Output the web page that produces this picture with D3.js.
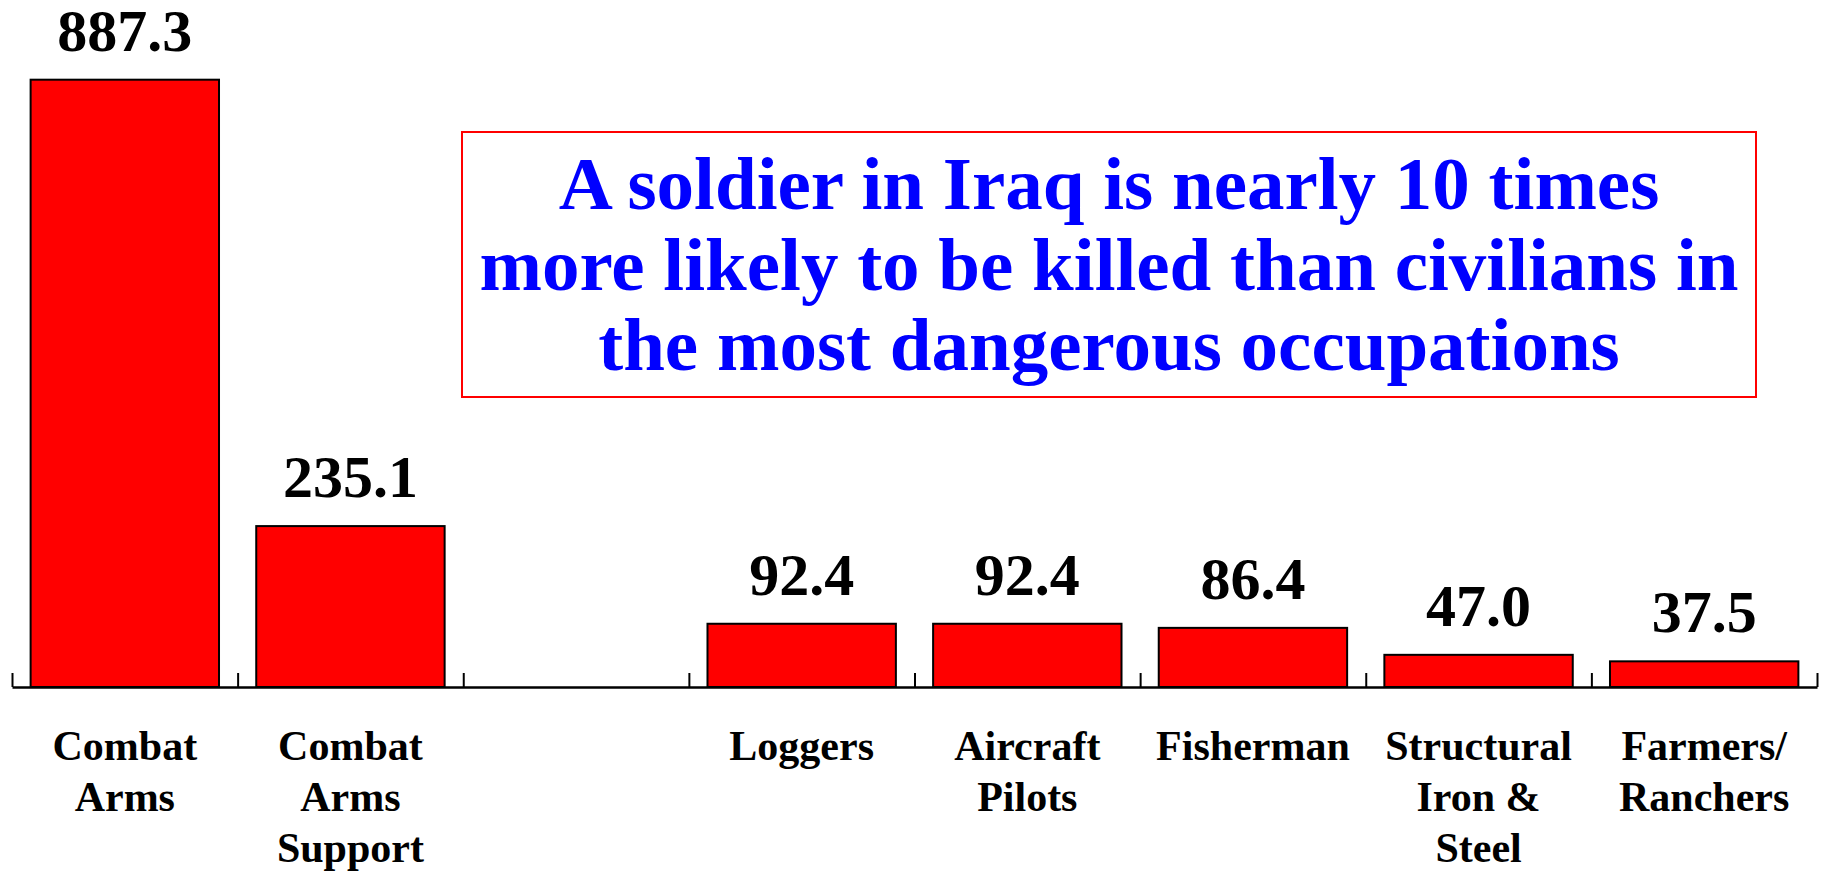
<!DOCTYPE html>
<html>
<head>
<meta charset="utf-8">
<script src="https://cdn.jsdelivr.net/npm/d3@7"></script>
<style>
  body { margin: 0; background: #fff; }
  svg text { font-family: "Liberation Serif", "Times New Roman", serif; font-weight: bold; }
</style>
</head>
<body>
<svg id="chartSVG"></svg>
<script>
var width = 1826
var height = 872

// chart data
var categoryLines = [
    ['Combat', 'Arms'],
    ['Combat', 'Arms', 'Support'],
    [],
    ['Loggers'],
    ['Aircraft', 'Pilots'],
    ['Fisherman'],
    ['Structural', 'Iron &', 'Steel'],
    ['Farmers/', 'Ranchers']
]
var values = [887.3, 235.1, null, 92.4, 92.4, 86.4, 47.0, 37.5]
var valueLabels = ['887.3', '235.1', '', '92.4', '92.4', '86.4', '47.0', '37.5']
var noteLines = [
    'A soldier in Iraq is nearly 10 times',
    'more likely to be killed than civilians in',
    'the most dangerous occupations'
]

var plot = {left: 12, right: 1817, baseline: 687, top: 71}

var svg = d3.select('#chartSVG')
    .attr('width', width)
    .attr('height', height)

var idx = d3.range(values.length)

var xScale = d3.scaleBand()
    .domain(idx)
    .range([plot.left, plot.right])
    .paddingInner(0.165)
    .paddingOuter(0.0825)

var edgeScale = d3.scaleLinear()
    .domain([0, values.length])
    .range([plot.left, plot.right])

var yScale = d3.scaleLinear()
    .domain([0, 900])
    .range([plot.baseline, plot.top])

// bars
svg.append('g').selectAll('rect')
    .data(idx.filter(function (i) { return values[i] != null }))
    .enter()
    .append('rect')
    .attr('x', function (i) { return xScale(i) })
    .attr('y', function (i) { return yScale(values[i]) })
    .attr('width', xScale.bandwidth())
    .attr('height', function (i) { return yScale(0) - yScale(values[i]) })
    .style('fill', '#FF0000')
    .style('stroke', '#000')
    .style('stroke-width', 2)

// axis with ticks on the category edges
var axis = d3.axisBottom(edgeScale)
    .tickValues(d3.range(values.length + 1))
    .tickSize(-14)
    .tickSizeOuter(0)
    .tickFormat('')
var axisG = svg.append('g')
    .attr('transform', 'translate(0,' + plot.baseline + ')')
    .call(axis)
axisG.select('.domain').attr('stroke', '#000').attr('stroke-width', 2.5)
axisG.selectAll('.tick line').attr('stroke', '#000').attr('stroke-width', 2)

// value labels
svg.append('g').selectAll('text')
    .data(idx.filter(function (i) { return values[i] != null }))
    .enter()
    .append('text')
    .attr('x', function (i) { return xScale(i) + xScale.bandwidth() / 2 })
    .attr('y', function (i) { return yScale(values[i]) - 29 })
    .attr('text-anchor', 'middle')
    .style('font-size', '60px')
    .style('fill', '#000')
    .text(function (i) { return valueLabels[i] })

// category labels
var catG = svg.append('g').selectAll('text')
    .data(idx)
    .enter()
    .append('text')
    .attr('text-anchor', 'middle')
    .style('font-size', '42px')
    .style('fill', '#000')
catG.selectAll('tspan')
    .data(function (i) { return categoryLines[i].map(function (t) { return {i: i, t: t} }) })
    .enter()
    .append('tspan')
    .attr('x', function (d) { return xScale(d.i) + xScale.bandwidth() / 2 })
    .attr('y', function (d, j) { return 760 + j * 51 })
    .text(function (d) { return d.t })

// note box
var box = {x: 462, y: 132, w: 1294, h: 265}
svg.append('rect')
    .attr('x', box.x)
    .attr('y', box.y)
    .attr('width', box.w)
    .attr('height', box.h)
    .style('fill', 'none')
    .style('stroke', '#FF0000')
    .style('stroke-width', 2)

svg.append('g').selectAll('text')
    .data(noteLines)
    .enter()
    .append('text')
    .attr('x', box.x + box.w / 2)
    .attr('y', function (d, i) { return 209 + i * 80.5 })
    .attr('text-anchor', 'middle')
    .style('font-size', '75px')
    .style('fill', '#0000FF')
    .text(function (d) { return d })
</script>
</body>
</html>
